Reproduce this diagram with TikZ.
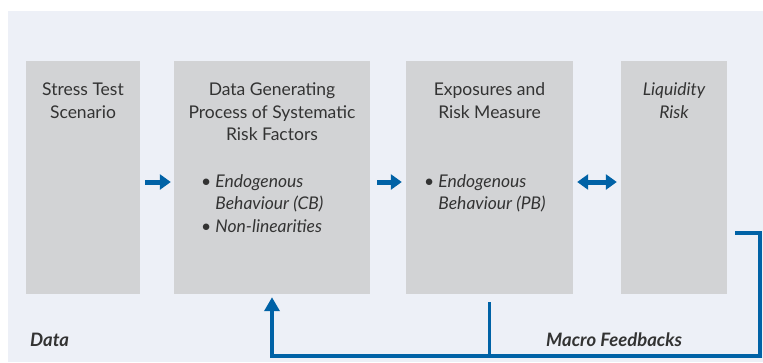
\documentclass[tikz,border=0pt]{standalone}
\usepackage{fontspec}
\setmainfont{Lato}
\usetikzlibrary{arrows.meta, positioning, calc}
\definecolor{panelbg}{HTML}{EDF0F7}
\definecolor{boxgray}{HTML}{D2D3D5}
\definecolor{flowblue}{HTML}{0062A6}
\definecolor{textgray}{HTML}{333333}

\begin{document}
\begin{tikzpicture}[x=1pt, y=-1pt,
    stage/.style={fill=boxgray, inner sep=0pt, minimum height=233pt, minimum width=#1},
    head/.style={font=\fontsize{17.5}{22.5}\selectfont, text=textgray, align=center, anchor=north, inner sep=0pt},
    items/.style={font=\fontsize{17.5}{22.5}\selectfont\itshape, text=textgray, align=left, anchor=north west, inner sep=0pt},
    tag/.style={font=\fontsize{18.5}{20}\selectfont\bfseries\itshape, text=textgray, anchor=west, inner sep=0pt},
    flow/.style={draw=flowblue, line width=5pt, -{Triangle[length=11pt, width=15pt]}},
    twoway/.style={draw=flowblue, line width=5pt, {Triangle[length=11pt, width=15pt]}-{Triangle[length=11pt, width=15pt]}},
    fbline/.style={draw=flowblue, line width=3.5pt, miter limit=10},
]
\useasboundingbox (0,0) rectangle (763,362);
\fill[panelbg] (8,11) rectangle (763,362);

% the four stages
\node[stage=114pt] (scen) at (83,177.5) {};
\node[stage=196pt] (dgp) at (272,177.5) {};
\node[stage=167pt] (expo) at (489.5,177.5) {};
\node[stage=106pt] (liq) at (674,177.5) {};

\node[head] at ([yshift=-22pt]scen.north) {Stress Test\\Scenario};
\node[head] at ([yshift=-22pt]dgp.north) {Data Generating\\Process of Systematic\\Risk Factors};
\node[head] at ([yshift=-22pt]expo.north) {Exposures and\\Risk Measure};
\node[head, font=\fontsize{17.5}{22.5}\selectfont\itshape] at ([yshift=-22pt]liq.north) {Liquidity\\Risk};

\node[items] at (201,174) {{\upshape\textbullet}~Endogenous\\\phantom{\textbullet~}Behaviour (CB)\\{\upshape\textbullet}~Non-linearities};
\node[items] at (424,174) {{\upshape\textbullet}~Endogenous\\\phantom{\textbullet~}Behaviour (PB)};

% arrows between stages
\coordinate (mid) at (0,182);
\draw[flow] ([xshift=5pt]scen.east |- mid) -- ([xshift=-3pt]dgp.west |- mid);
\draw[flow] ([xshift=7pt]dgp.east |- mid) -- ([xshift=-4pt]expo.west |- mid);
\draw[twoway] ([xshift=4pt]expo.east |- mid) -- ([xshift=-4pt]liq.west |- mid);

% macro feedback loop
\coordinate (fbstart) at ([xshift=8pt]liq.east |- 0,233);
\coordinate (fbcorner) at (760,356);
\draw[fbline, -{Triangle[length=14pt, width=15pt]}] (fbstart) -| (fbcorner) -| ([yshift=-3pt]dgp.south);
\draw[fbline] ([yshift=-8pt]expo.south) -- (expo.south |- fbcorner);

\node[tag] (data) at (30,340) {Data};
\node[tag] (macro) at (546,340) {Macro Feedbacks};

\end{tikzpicture}
\end{document}
